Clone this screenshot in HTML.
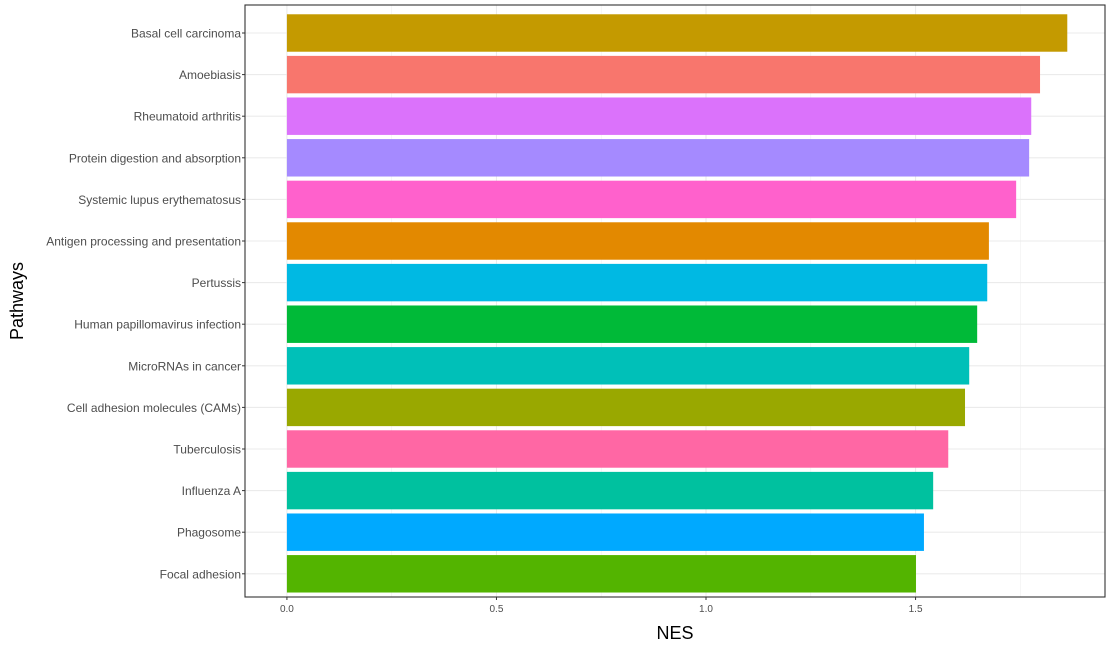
<!DOCTYPE html>
<html><head><meta charset="utf-8"><style>
body{margin:0;background:#fff;font-family:"Liberation Sans",Arial,sans-serif}
</style></head><body>
<svg id="chart" width="1113" height="648"></svg>
<script>
const categories=["Basal cell carcinoma","Amoebiasis","Rheumatoid arthritis","Protein digestion and absorption","Systemic lupus erythematosus","Antigen processing and presentation","Pertussis","Human papillomavirus infection","MicroRNAs in cancer","Cell adhesion molecules (CAMs)","Tuberculosis","Influenza A","Phagosome","Focal adhesion"];
const nesValues=[1.862,1.797,1.776,1.771,1.740,1.675,1.671,1.647,1.628,1.618,1.578,1.542,1.520,1.501];
const barColors=["#C49A00","#F8766D","#DB72FB","#A58AFF","#FF61CC","#E38900","#00B9E3","#00BA38","#00C0B8","#99A800","#FF67A4","#00C19F","#00A9FF","#53B400"];
const xTicks=[0,0.5,1,1.5];
const xTickLabels=["0.0","0.5","1.0","1.5"];
const xMinor=[0.25,0.75,1.25,1.75];

const NS="http://www.w3.org/2000/svg";
const svg=document.getElementById('chart');
const L=245,R=1105,T=5,B=597;
const xMin=-0.1,xMax=1.952;
const x=v=>L+(v-xMin)/(xMax-xMin)*(R-L);
const step=41.6;
const y=i=>33+step*i;
function el(tag,attrs,parent){const e=document.createElementNS(NS,tag);for(const k in attrs)e.setAttribute(k,attrs[k]);(parent||svg).appendChild(e);return e;}
xMinor.forEach(v=>{const g=el('line',{x1:x(v),x2:x(v),y1:T,y2:B,stroke:'#f0f0f0','stroke-width':0.6});

});
xTicks.forEach(v=>{const g=el('line',{x1:x(v),x2:x(v),y1:T,y2:B,stroke:'#ebebeb','stroke-width':1.1});

});
categories.forEach((c,i)=>{const g=el('line',{x1:L,x2:R,y1:y(i),y2:y(i),stroke:'#ebebeb','stroke-width':1.1});

});
const bh=step*0.9;
categories.forEach((c,i)=>{
 const r=el('rect',{x:x(0),y:y(i)-bh/2,width:x(nesValues[i])-x(0),height:bh,fill:barColors[i]});
 
 
 const t=el('text',{x:L-4,y:y(i)+4.5,'text-anchor':'end','font-size':12,fill:'#4d4d4d'});t.textContent=c;
 
 
 const tk=el('line',{x1:L-3,x2:L,y1:y(i),y2:y(i),stroke:'#333','stroke-width':1});
 
 
});
xTicks.forEach((v,i)=>{
 const tk=el('line',{x1:x(v),x2:x(v),y1:B,y2:B+3,stroke:'#333','stroke-width':1});
 
 
 const t=el('text',{x:x(v),y:B+15,'text-anchor':'middle','font-size':10,fill:'#4d4d4d'});t.textContent=xTickLabels[i];
 
 
});
const p=el('rect',{x:L,y:T,width:R-L,height:B-T,fill:'none',stroke:'#333','stroke-width':1.1});


const xt=el('text',{x:(L+R)/2,y:639,'text-anchor':'middle','font-size':18,fill:'#000'});xt.textContent='NES';


const yt=el('text',{x:0,y:0,'text-anchor':'middle','font-size':18,fill:'#000',transform:`translate(23,${(T+B)/2}) rotate(-90)`});yt.textContent='Pathways';


</script>
</body></html>
